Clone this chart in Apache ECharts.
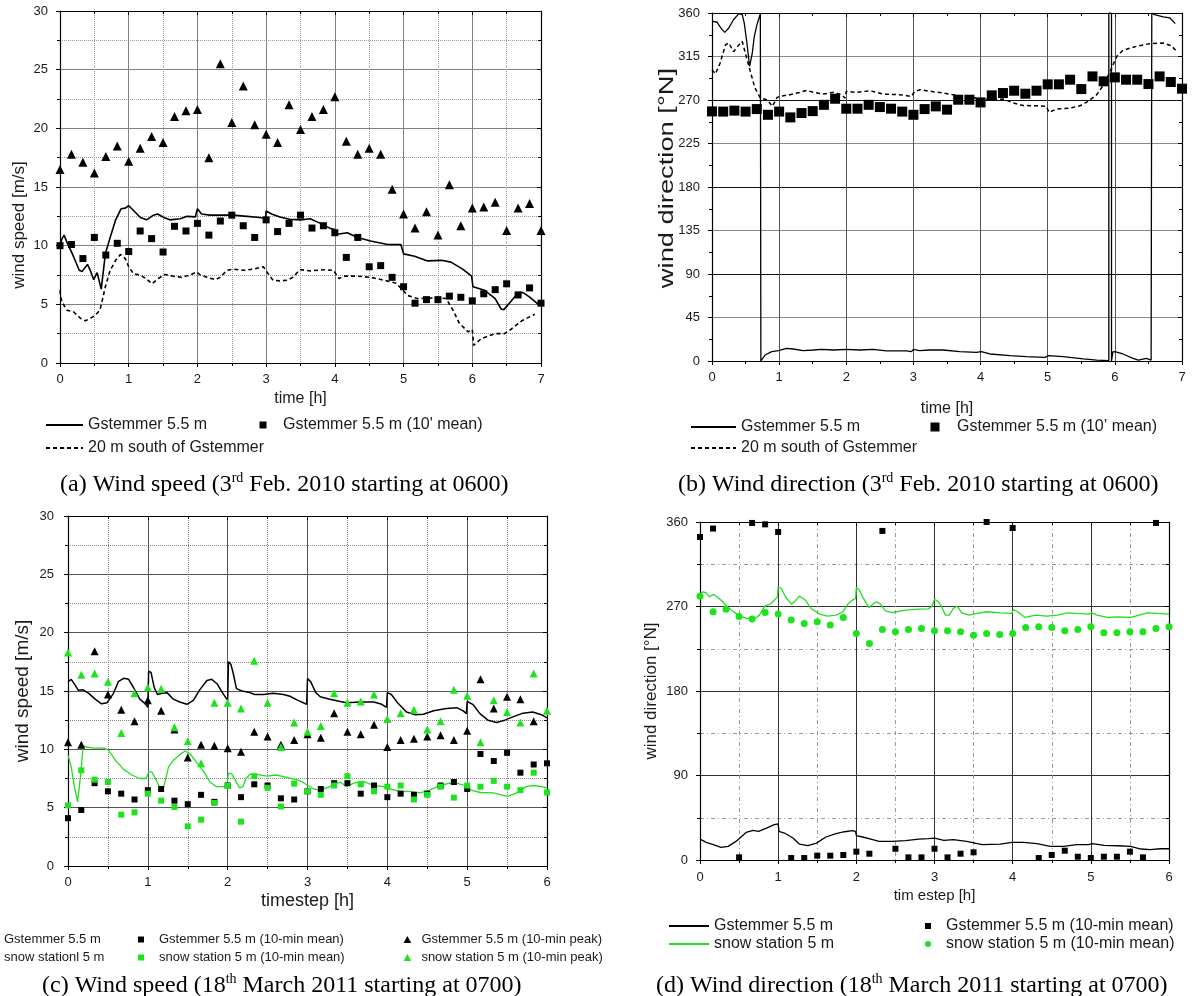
<!DOCTYPE html>
<html>
<head>
<meta charset="utf-8">
<script src="https://cdn.jsdelivr.net/npm/echarts@6/dist/echarts.min.js"></script>
<style>
  html, body { margin: 0; padding: 0; background: #fff; }
  #main { width: 1200px; height: 996px; }
</style>
</head>
<body>
<div id="main"></div>
<script>
// ---------- (a) wind speed, 3rd Feb 2010 ----------
var aGstLine = [[0,10.0],[0.03,10.6],[0.06,10.9],[0.1,10.3],[0.18,9.3],[0.28,7.9],[0.32,7.8],[0.4,8.4],[0.44,7.9],[0.49,7.1],[0.54,7.7],[0.57,7.0],[0.6,6.3],[0.66,9.3],[0.73,10.7],[0.81,12.2],[0.89,13.15],[0.95,13.2],[1.0,13.4],[1.07,13.0],[1.17,12.4],[1.26,12.2],[1.36,12.6],[1.42,12.7],[1.51,12.4],[1.6,12.2],[1.75,12.3],[1.85,12.5],[1.97,12.45],[2.0,13.15],[2.06,12.7],[2.18,12.6],[2.52,12.6],[2.72,12.5],[2.91,12.4],[2.99,12.3],[3.0,12.95],[3.08,12.7],[3.2,12.45],[3.34,12.25],[3.5,12.2],[3.64,12.3],[3.79,11.9],[3.94,11.45],[3.99,11.4],[4.0,11.0],[4.06,11.0],[4.18,11.1],[4.33,10.7],[4.52,10.4],[4.77,10.1],[4.96,10.1],[5.0,9.3],[5.16,9.1],[5.35,8.7],[5.55,8.75],[5.69,8.6],[5.86,8.0],[5.99,7.4],[6.01,6.5],[6.18,6.2],[6.33,5.5],[6.42,4.6],[6.46,4.55],[6.57,5.3],[6.67,6.0],[6.74,6.0],[6.84,5.6],[6.94,5.1],[7.0,5.05]];
var aSouthLine = [[0,6.2],[0.01,5.6],[0.03,5.2],[0.1,4.5],[0.2,4.35],[0.3,3.8],[0.37,3.6],[0.44,3.8],[0.52,4.1],[0.58,4.5],[0.61,5.2],[0.66,6.5],[0.73,7.9],[0.81,8.75],[0.88,9.25],[0.95,8.9],[1.0,8.2],[1.07,7.6],[1.17,7.5],[1.27,7.1],[1.34,6.75],[1.43,7.2],[1.53,7.55],[1.65,7.4],[1.77,7.3],[1.89,7.5],[1.99,7.75],[2.04,7.5],[2.14,7.3],[2.26,7.1],[2.33,7.3],[2.43,7.9],[2.52,8.0],[2.67,7.9],[2.81,8.0],[2.96,8.2],[3.03,7.6],[3.1,7.05],[3.2,7.0],[3.3,7.05],[3.39,7.3],[3.46,7.75],[3.5,7.95],[3.64,7.85],[3.84,7.95],[3.98,7.9],[4.06,7.2],[4.13,7.4],[4.33,7.4],[4.52,7.3],[4.72,7.05],[4.89,6.8],[4.99,6.2],[5.06,5.75],[5.2,5.5],[5.5,5.55],[5.62,5.5],[5.72,4.5],[5.81,3.4],[5.94,2.65],[6.0,2.85],[6.02,1.5],[6.13,2.07],[6.33,2.5],[6.47,2.5],[6.57,2.9],[6.72,3.6],[6.91,4.15]];
// 10-min values, one every 1/6 h from 0 to 7 h
var aMean = [10.0,10.1,8.9,10.7,9.2,10.2,9.5,11.25,10.6,9.46,11.65,11.25,11.9,10.9,12.1,12.6,11.7,10.7,12.2,11.2,11.9,12.6,11.5,11.7,11.1,9.0,10.7,8.2,8.3,7.3,6.5,5.1,5.4,5.4,5.7,5.6,5.3,5.9,6.25,6.75,5.8,6.4,5.1];
var aPeak = [16.5,17.8,17.1,16.2,17.6,18.5,17.2,18.3,19.3,18.8,21.0,21.5,21.6,17.5,25.5,20.5,23.6,20.3,19.5,18.8,22.0,19.9,21.0,21.6,22.7,18.9,17.8,18.3,17.8,14.8,12.7,11.5,12.9,10.9,15.2,11.7,13.2,13.3,13.7,11.3,13.2,13.6,11.3];

// ---------- (b) wind direction, 3rd Feb 2010 ----------
var bGstLine = [[0,351.4],[0.07,350.7],[0.15,342.8],[0.19,340],[0.25,344.5],[0.32,353],[0.4,359.3],[0.45,358.3],[0.48,349.7],[0.52,329],[0.56,304.8],[0.58,303],[0.6,318.6],[0.63,335.9],[0.67,348],[0.72,359.3],[0.728,360],[0.728,0],[0.79,6.2],[0.89,9.7],[0.99,10.7],[1.11,13.1],[1.21,12.4],[1.36,10.7],[1.51,11.4],[1.63,12.1],[1.81,11.4],[2.0,12.1],[2.2,11.4],[2.4,12.1],[2.6,10.4],[2.9,10.4],[2.97,9.7],[3.0,12.1],[3.09,10.7],[3.24,11.4],[3.44,11.4],[3.69,9.7],[3.94,9.0],[4.01,9.7],[4.14,7.25],[4.44,5.5],[4.68,4.5],[4.96,3.8],[5.01,5.5],[5.23,4.5],[5.53,2.1],[5.73,1.0],[5.91,0.3],[5.91,360],[5.95,359.5],[5.95,0],[5.97,9.5],[6.0,9.7],[6.12,7.25],[6.27,2.8],[6.35,1.0],[6.47,2.8],[6.54,1.0],[6.55,0],[6.55,360],[6.59,358.3],[6.72,355.9],[6.82,354.9],[6.9,349]];
var bSouthLine = [[0,301.3],[0.05,297],[0.12,308],[0.2,327],[0.25,329],[0.32,320],[0.4,327],[0.45,330.7],[0.51,315],[0.57,299.6],[0.64,282.4],[0.72,272],[0.82,270.3],[0.9,263.4],[0.97,272.7],[1.01,273.7],[1.16,275.5],[1.31,277.9],[1.41,280],[1.51,277.9],[1.66,276.1],[1.81,277.9],[1.93,275.5],[1.98,272],[2.0,279],[2.15,277.9],[2.35,279.6],[2.55,276.1],[2.8,275.5],[2.97,273.7],[3.02,279],[3.1,280.6],[3.25,279],[3.44,277.2],[3.69,274.4],[3.94,272],[4.14,270.3],[4.34,271],[4.49,266.8],[4.63,264.4],[4.83,264],[4.98,263.4],[5.02,257.2],[5.13,260.6],[5.33,261.6],[5.48,264],[5.6,268.6],[5.73,275.5],[5.85,287.5],[5.94,301.3],[6.03,315.2],[6.12,321.4],[6.32,325.5],[6.52,328.3],[6.72,329],[6.84,326.2],[6.92,320.3]];
var bMean = [258.2,258,259,258,260.6,254.7,258,252,256.5,258.5,265,271.3,261,261,265,262.7,261,258,254.7,260.6,263.4,260,270.3,270.3,267.5,274.8,277.2,279.6,276.5,279.6,286.2,286.2,291,281.3,294.4,289.3,293.4,291,291,286.5,294.4,288.6,281.7];

// ---------- (c) wind speed, 18th March 2011 ----------
var cGstLine = [[0,15.8],[0.04,16.0],[0.09,15.5],[0.13,15.06],[0.19,15.1],[0.26,14.8],[0.34,14.3],[0.42,13.9],[0.49,14.0],[0.57,14.8],[0.63,15.8],[0.7,16.1],[0.76,16.0],[0.82,15.3],[0.9,14.3],[0.97,13.9],[1.0,13.6],[1.01,16.7],[1.04,16.6],[1.08,15.3],[1.12,14.7],[1.18,14.8],[1.24,14.86],[1.32,14.3],[1.4,14.06],[1.49,13.86],[1.57,14.2],[1.65,15.1],[1.74,15.9],[1.8,16.0],[1.87,15.6],[1.93,14.9],[1.97,14.5],[2.0,14.2],[2.01,17.5],[2.04,17.3],[2.07,16.5],[2.11,15.2],[2.18,15.0],[2.26,14.9],[2.34,14.7],[2.45,14.7],[2.57,14.8],[2.7,14.7],[2.78,14.55],[2.88,14.2],[2.99,13.86],[3.0,16.06],[3.04,15.8],[3.1,14.9],[3.16,14.5],[3.28,14.3],[3.41,14.1],[3.49,14.0],[3.66,14.06],[3.83,14.06],[3.93,13.86],[3.99,13.6],[4.0,14.86],[4.05,14.7],[4.14,13.9],[4.24,13.2],[4.35,12.97],[4.45,13.0],[4.58,13.3],[4.74,13.5],[4.87,13.57],[4.95,13.3],[4.99,13.06],[5.0,14.1],[5.07,13.86],[5.16,13.06],[5.26,12.5],[5.37,12.3],[5.47,12.5],[5.58,12.8],[5.7,13.1],[5.82,13.2],[5.93,12.97],[6.0,12.7]];
var cSnowLine = [[0,9.5],[0.04,8.5],[0.08,6.8],[0.12,5.5],[0.14,5.6],[0.16,7.9],[0.19,10.3],[0.23,10.2],[0.32,10.1],[0.45,10.1],[0.51,9.9],[0.59,9.1],[0.7,8.26],[0.8,7.8],[0.9,7.5],[0.98,7.5],[1.01,8.06],[1.05,8.06],[1.11,7.3],[1.15,6.7],[1.2,6.8],[1.26,8.5],[1.32,9.06],[1.43,9.7],[1.47,9.86],[1.53,9.6],[1.61,8.9],[1.7,8.06],[1.78,7.2],[1.86,6.8],[1.95,6.8],[1.99,6.9],[2.01,7.97],[2.05,7.9],[2.1,7.3],[2.15,6.7],[2.19,6.8],[2.23,7.5],[2.28,7.86],[2.36,7.86],[2.49,7.7],[2.61,7.8],[2.74,7.6],[2.86,7.4],[2.91,7.3],[2.99,6.97],[3.08,6.6],[3.16,6.5],[3.28,6.8],[3.41,7.2],[3.49,6.8],[3.58,7.1],[3.7,7.26],[3.83,6.9],[3.95,6.8],[4.03,6.6],[4.16,6.4],[4.28,6.4],[4.41,6.26],[4.53,6.5],[4.66,6.9],[4.78,7.1],[4.89,7.06],[4.97,6.9],[5.05,6.5],[5.16,6.3],[5.33,6.26],[5.45,6.06],[5.51,5.97],[5.62,6.26],[5.74,6.8],[5.83,6.9],[5.93,6.8],[6.0,6.7]];
// 10-min values, one every 1/6 h from 0 to 6 h
var cGstMean = [4.1,4.8,7.1,6.4,6.2,5.7,6.5,6.6,5.6,5.3,6.1,5.5,6.9,5.9,7.0,6.9,5.8,5.7,6.4,6.6,7.1,7.1,6.2,6.9,5.9,6.2,6.1,6.2,6.9,7.2,6.6,9.6,9.0,9.7,8.0,8.7,8.8];
var cGstPeak = [10.6,10.4,18.4,14.7,13.4,12.4,14.2,13.3,11.7,9.3,10.4,10.3,10.1,9.8,11.5,11.1,10.4,10.8,11.3,11.0,13.1,11.5,11.3,12.1,10.2,10.8,10.9,11.1,11.2,10.8,11.6,16.0,13.5,14.5,14.3,12.4,null];
var cSnowMean = [5.2,8.2,7.4,7.2,4.4,4.6,6.2,5.6,5.06,3.4,3.97,5.4,6.86,3.8,7.7,6.7,5.1,7.06,6.4,6.1,6.9,7.7,7.0,6.4,6.8,6.9,5.7,6.1,6.8,5.86,6.9,6.8,7.3,6.8,6.5,8.0,6.3];
var cSnowPeak = [18.3,16.4,16.5,15.8,11.4,14.8,15.3,15.2,11.9,10.7,8.8,14.0,14.0,13.5,17.6,14.0,10.2,12.3,11.5,12.0,14.8,14.0,14.1,14.7,12.6,13.1,13.4,11.7,12.4,15.1,14.6,10.6,14.2,13.2,12.3,16.5,13.3];

// ---------- (d) wind direction, 18th March 2011 ----------
var dGstLine = [[0,22.3],[0.08,18.8],[0.17,16.3],[0.27,13.5],[0.36,14.5],[0.46,19.8],[0.59,29.4],[0.68,31.5],[0.75,30.5],[0.85,34],[0.95,37.6],[1.0,38.6],[1.01,30.5],[1.08,28.7],[1.19,23.4],[1.27,17],[1.38,15.2],[1.49,18],[1.61,24.5],[1.74,28],[1.85,30.1],[1.95,31.2],[1.99,30.5],[2.0,25.9],[2.08,24.5],[2.21,21.6],[2.29,19.8],[2.46,19.8],[2.63,20.6],[2.8,22.3],[2.92,22.8],[3.0,23.4],[3.12,20.9],[3.24,21.6],[3.41,19.8],[3.61,16.3],[3.84,17],[3.99,18.8],[4.14,18.8],[4.31,17.4],[4.48,14.5],[4.65,14.5],[4.82,16.3],[4.97,16.3],[5.02,17.4],[5.17,15.6],[5.34,15.2],[5.51,14.5],[5.64,11.7],[5.76,11.0],[5.89,12.0],[6.0,12.0]];
var dSnowLine = [[0,283.1],[0.04,285.6],[0.08,284.5],[0.12,280.3],[0.17,283.1],[0.23,279.6],[0.29,275],[0.34,270.4],[0.41,265.4],[0.49,260.8],[0.59,257.3],[0.7,257.3],[0.76,260.8],[0.83,270.4],[0.91,273.2],[0.99,280.3],[1.0,291],[1.04,289.2],[1.1,279.6],[1.17,272.5],[1.21,275],[1.27,281],[1.34,277.5],[1.42,267.9],[1.53,261.9],[1.63,259.7],[1.74,260.8],[1.83,264.4],[1.89,272.5],[1.95,276.8],[1.99,278.5],[2.0,290.2],[2.04,287.4],[2.08,280.3],[2.16,269],[2.21,272.5],[2.26,275],[2.31,272.5],[2.37,265.4],[2.46,263.6],[2.63,266.1],[2.8,267.3],[2.92,267.5],[2.97,270.4],[3.0,277.8],[3.05,275],[3.09,269.7],[3.14,260.8],[3.19,260.8],[3.24,267.9],[3.29,270.4],[3.35,263.3],[3.44,260.8],[3.54,262.6],[3.67,264.4],[3.84,263.3],[3.99,262.6],[4.01,266.8],[4.08,263.3],[4.16,258.3],[4.29,260.8],[4.44,259.7],[4.57,260.8],[4.7,263.3],[4.82,262.6],[4.97,261.9],[5.01,263.3],[5.08,260.8],[5.21,258.3],[5.34,259],[5.51,258.3],[5.62,260.8],[5.72,263.3],[5.85,262.6],[6.0,261.9]];
var dGstMean = [344,353,null,2.8,359,357.5,349.4,2.1,2.1,4.6,4.6,5.3,8.9,6.7,350.5,12.0,2.8,2.8,12.0,2.8,6.7,8.2,360,null,353.6,null,2.1,5.3,9.9,3.5,2.1,3.5,3.5,8.9,2.8,359,null];
var dSnowMean = [281,264.4,267.2,259.4,256.6,263.6,261.9,255.5,252,253.7,250.2,258.3,241.3,230.7,245.6,243.1,245.6,246.6,244.2,244.2,243.1,239.5,241.3,240.3,241.3,247.7,248.4,247.7,244.2,245.6,248.4,242.0,242.0,243.1,243.1,246.6,248.4];

var FONT = '"Liberation Sans", Arial, sans-serif';
var SERIF = '"Liberation Serif", "Times New Roman", serif';
var GREEN_LINE = '#22dd22';
var GREEN_DOT = '#1de31d';
var SQ = 'path://M0,0H10V10H0Z';
var TRI = 'path://M5,0L10,9H0Z';
var CIRC = 'path://M5,0A5,5,0,1,1,5,10A5,5,0,1,1,5,0Z';

// 10-min samples -> [hour, value]
function tenMin(vals) {
    var out = [];
    for (var i = 0; i < vals.length; i++) {
        if (vals[i] !== null) out.push([i / 6, vals[i]]);
    }
    return out;
}

var panels = [
    {grid: {left: 60, top: 11, width: 481, height: 352}, xMax: 7, yMax: 30, yStep: 5,
     xName: 'time [h]', xNameSize: 16, xNameGap: 28, xLabMargin: 10, yLabMargin: 12,
     yName: 'wind speed [m/s]', yNameSize: 17, yNameGap: 32, yNamePad: [0, 76, 0, 0],
     major: '#808080', minor: {color: '#9a9a9a', type: 'dotted'}},
    {grid: {left: 712, top: 13, width: 470, height: 348}, xMax: 7, yMax: 360, yStep: 45,
     xName: 'time [h]', xNameSize: 16, xNameGap: 40, xLabMargin: 10, yLabMargin: 12,
     yName: '', yNameSize: 16, yNameGap: 30, yNamePad: [0, 0, 0, 0],
     major: '#555', yMajor: ['#8a8a8a', '#111'], minor: null},
    {grid: {left: 68, top: 516, width: 479, height: 350}, xMax: 6, yMax: 30, yStep: 5,
     xName: 'timestep [h]', xNameSize: 18, xNameGap: 26, xLabMargin: 10, yLabMargin: 14,
     yName: 'wind speed [m/s]', yNameSize: 19, yNameGap: 36, yNamePad: [0, 0, 0, 0],
     major: '#555', minor: {color: '#888', type: 'dotted'}},
    {grid: {left: 700, top: 522, width: 469, height: 338}, xMax: 6, yMax: 360, yStep: 90,
     xName: 'tim estep [h]', xNameSize: 15, xNameGap: 28, xLabMargin: 11, yLabMargin: 12,
     yName: 'wind direction [°N]', yNameSize: 17, yNameGap: 40, yNamePad: [0, 0, 0, 0],
     major: '#333', minor: {color: '#999', type: [4, 3, 1, 3]}}
];

var grids = [], xAxes = [], yAxes = [];
panels.forEach(function (p, i) {
    grids.push(p.grid);
    var line = {show: true, onZero: false, lineStyle: {color: '#000', width: 1.2}};
    var tickOut = {show: true, length: 4, lineStyle: {color: '#000'}};
    var tickIn = {show: true, inside: true, length: 4, lineStyle: {color: '#000'}};
    var minorTick = {show: true, splitNumber: 2, length: 3, lineStyle: {color: '#000'}};
    var minorSplit = p.minor ? {show: true, lineStyle: {color: p.minor.color, type: p.minor.type, width: 1}} : {show: false};
    var lab = {color: '#1a1a1a', fontSize: 13, fontFamily: FONT};
    xAxes.push({
        type: 'value', gridIndex: i, position: 'bottom', min: 0, max: p.xMax, interval: 1,
        axisLine: line, axisTick: tickOut, minorTick: minorTick,
        axisLabel: Object.assign({margin: p.xLabMargin}, lab),
        splitLine: {show: true, showMinLine: false, showMaxLine: false, lineStyle: {color: p.major, width: 1}},
        minorSplitLine: minorSplit,
        name: p.xName, nameLocation: 'middle', nameGap: p.xNameGap,
        nameTextStyle: {fontSize: p.xNameSize, fontFamily: FONT, color: '#1a1a1a'}
    });
    xAxes.push({
        type: 'value', gridIndex: i, position: 'top', min: 0, max: p.xMax, interval: 1,
        axisLine: line, axisTick: tickIn, minorTick: minorTick,
        axisLabel: {show: false}, splitLine: {show: false}
    });
    yAxes.push({
        type: 'value', gridIndex: i, position: 'left', min: 0, max: p.yMax, interval: p.yStep,
        axisLine: line, axisTick: tickOut, minorTick: minorTick,
        axisLabel: Object.assign({margin: p.yLabMargin}, lab),
        splitLine: {show: true, showMinLine: false, showMaxLine: false, lineStyle: {color: p.yMajor || p.major, width: 1}},
        minorSplitLine: minorSplit,
        name: p.yName, nameLocation: 'middle', nameGap: p.yNameGap,
        nameTextStyle: {fontSize: p.yNameSize, fontFamily: FONT, color: '#1a1a1a', padding: p.yNamePad}
    });
    yAxes.push({
        type: 'value', gridIndex: i, position: 'right', min: 0, max: p.yMax, interval: p.yStep,
        axisLine: line, axisTick: tickIn, minorTick: minorTick,
        axisLabel: {show: false}, splitLine: {show: false}
    });
});

function lineS(i, name, data, color, width, type) {
    return {type: 'line', name: name, xAxisIndex: 2 * i, yAxisIndex: 2 * i, data: data,
        showSymbol: false, symbol: 'none', lineStyle: {color: color, width: width, type: type || 'solid'},
        itemStyle: {color: color}, z: 3, animation: false};
}
function dotS(i, name, data, symbol, size, color) {
    return {type: 'scatter', name: name, xAxisIndex: 2 * i, yAxisIndex: 2 * i, data: data,
        symbol: symbol, symbolSize: size, itemStyle: {color: color, opacity: 1}, z: 4, animation: false};
}

var series = [
    lineS(0, 'Gstemmer 5.5 m', aGstLine, '#000', 1.6),
    lineS(0, '20 m south of Gstemmer', aSouthLine, '#000', 1.6, [4, 3]),
    dotS(0, "Gstemmer 5.5 m (10' mean)", tenMin(aMean), 'rect', 7, '#000'),
    dotS(0, 'peak a', tenMin(aPeak), 'triangle', 9, '#000'),

    lineS(1, 'Gstemmer 5.5 m', bGstLine, '#000', 1.3),
    lineS(1, '20 m south of Gstemmer', bSouthLine, '#000', 1.5, [4, 3]),
    dotS(1, 'Gstemmer 5.5 m (10\u2019 mean)', tenMin(bMean), 'rect', 10, '#000'),

    lineS(2, 'Gstemmer 5.5 m', cGstLine, '#000', 1.5),
    lineS(2, 'snow stationl 5 m', cSnowLine, GREEN_LINE, 1.3),
    dotS(2, 'Gstemmer 5.5 m (10-min mean)', tenMin(cGstMean), 'rect', 6, '#000'),
    dotS(2, 'snow station 5 m (10-min mean) ', tenMin(cSnowMean), 'rect', 6, GREEN_DOT),
    dotS(2, 'Gstemmer 5.5 m (10-min peak)', tenMin(cGstPeak), 'triangle', 8, '#000'),
    dotS(2, 'snow station 5 m (10-min peak)', tenMin(cSnowPeak), 'triangle', 8, GREEN_DOT),

    lineS(3, 'Gstemmer 5.5 m', dGstLine, '#000', 1.3),
    lineS(3, 'snow station 5 m', dSnowLine, GREEN_LINE, 1.3),
    dotS(3, 'Gstemmer 5.5 m (10-min mean)', tenMin(dGstMean), 'rect', 6, '#000'),
    dotS(3, 'snow station 5 m (10-min mean)', tenMin(dSnowMean), 'circle', 7, GREEN_DOT)
];

// legend helper: line samples use a tiny itemHeight so only the stroke shows
function leg(left, top, items, fs, w, h, gap) {
    return {left: left, top: top, orient: 'vertical', padding: 0, itemGap: gap || 0,
        itemWidth: w, itemHeight: h, selectedMode: false, data: items,
        textStyle: {fontSize: fs, fontFamily: FONT, color: '#1a1a1a'}};
}

var legends = [
    leg(45, 417, ['Gstemmer 5.5 m'], 16, 37, 1),
    leg(45, 440, ['20 m south of Gstemmer'], 16, 37, 1),
    leg(259.5, 417, [{name: "Gstemmer 5.5 m (10' mean)", icon: SQ}], 16, 30, 7),

    leg(690, 419, ['Gstemmer 5.5 m'], 16, 45, 1),
    leg(690, 440, ['20 m south of Gstemmer'], 16, 45, 1),
    leg(930.5, 419, [{name: 'Gstemmer 5.5 m (10\u2019 mean)', icon: SQ}], 16, 34, 9),

    leg(-2, 933, ['Gstemmer 5.5 m', 'snow stationl 5 m'], 13, 0, 0.01, 5),
    leg(138, 933, [{name: 'Gstemmer 5.5 m (10-min mean)', icon: SQ}, {name: 'snow station 5 m (10-min mean) ', icon: SQ}], 13, 26, 6, 5),
    leg(403.5, 933, [{name: 'Gstemmer 5.5 m (10-min peak)', icon: TRI}, {name: 'snow station 5 m (10-min peak)', icon: TRI}], 13, 18, 7, 5),

    leg(668, 918, ['Gstemmer 5.5 m', 'snow station 5 m'], 16, 40, 1, 2),
    leg(925, 918, [{name: 'Gstemmer 5.5 m (10-min mean)', icon: SQ}, {name: 'snow station 5 m (10-min mean)', icon: CIRC}], 16, 26, 6, 2)
];

var RICH = {
    n: {fontFamily: SERIF, fontSize: 24, fontWeight: 'normal', color: '#000', lineHeight: 28},
    s: {fontFamily: SERIF, fontSize: 14, fontWeight: 'normal', color: '#000', verticalAlign: 'top', lineHeight: 15}
};
function caption(left, top, a, sup, b) {
    return {left: left, top: top, padding: 0,
        text: '{n|' + a + '}{s|' + sup + '}{n|' + b + '}',
        textStyle: {fontWeight: 'normal', rich: RICH}};
}

var chart = echarts.init(document.getElementById('main'), null, {renderer: 'canvas'});
chart.setOption({
    backgroundColor: '#fff',
    animation: false,
    title: [
        caption(60, 471, '(a) Wind speed (3', 'rd', ' Feb. 2010 starting at 0600)'),
        caption(678, 471, '(b) Wind direction (3', 'rd', ' Feb. 2010 starting at 0600)'),
        caption(42, 972, '(c) Wind speed (18', 'th', ' March 2011 starting at 0700)'),
        caption(656, 972, '(d) Wind direction (18', 'th', ' March 2011 starting at 0700)')
    ],
    grid: grids,
    xAxis: xAxes,
    yAxis: yAxes,
    legend: legends,
    graphic: [{
        type: 'text', x: 667, y: 178, rotation: Math.PI / 2, scaleX: 1.3,
        style: {text: 'wind direction [°N]', font: '21px ' + FONT, fill: '#1a1a1a', align: 'center', verticalAlign: 'middle'}
    }],
    series: series
});
</script>
</body>
</html>
